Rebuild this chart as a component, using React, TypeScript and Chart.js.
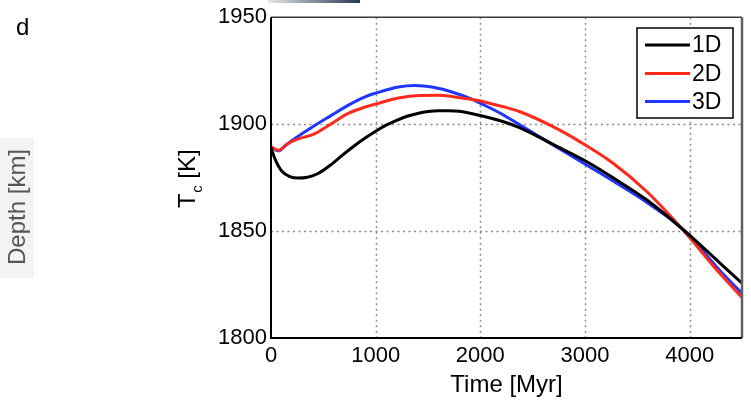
import { useEffect, useRef } from "react";
import { Chart, registerables } from "chart.js";

Chart.register(...registerables);

const seriesLabels = ["1D", "2D", "3D"];
const seriesColors = ["#000000", "#ff2a1c", "#1f35ff"];

const time1D = [0, 40, 100, 180, 260, 350, 450, 580, 680, 800, 900, 1000, 1100, 1200, 1300, 1400, 1500, 1600, 1700, 1800, 1966, 2221, 2380, 2699, 3018, 3272, 3592, 3942, 4292, 4500];
const tc1D = [1889.1, 1883.5, 1878.2, 1875.5, 1874.8, 1875.2, 1876.9, 1881.3, 1885.4, 1890.0, 1893.5, 1896.7, 1899.5, 1901.8, 1903.7, 1905.0, 1905.9, 1906.3, 1906.3, 1906.0, 1904.4, 1901.1, 1898.3, 1890.4, 1882.4, 1874.8, 1864.5, 1850.5, 1834.9, 1825.6];

const time2D = [0, 70, 150, 229, 421, 580, 739, 899, 994, 1217, 1424, 1600, 1743, 1966, 2221, 2380, 2699, 2954, 3272, 3592, 3910, 4292, 4500];
const tc2D = [1889.4, 1887.8, 1890.5, 1892.5, 1895.6, 1900.3, 1905.0, 1908.0, 1909.3, 1912.2, 1913.4, 1913.5, 1912.8, 1911.2, 1908.1, 1905.8, 1898.7, 1891.7, 1881.6, 1868.4, 1852.0, 1830.0, 1819.0];

const time3D = [0, 70, 150, 229, 421, 580, 739, 899, 994, 1217, 1377, 1550, 1743, 1900, 2050, 2221, 2380, 2550, 2699, 3018, 3272, 3592, 3942, 4292, 4500];
const tc3D = [1889.4, 1887.5, 1890.5, 1893.3, 1899.5, 1904.2, 1908.9, 1912.8, 1914.4, 1917.4, 1918.1, 1917.2, 1914.8, 1912.0, 1908.6, 1904.3, 1899.6, 1894.6, 1890.2, 1880.8, 1873.3, 1863.4, 1850.5, 1831.3, 1820.9];

const xTicks = [0, 1000, 2000, 3000, 4000];
const yTicks = [1800, 1850, 1900, 1950];
const xMin = 0, xMax = 4500, yMin = 1800, yMax = 1950;

const FONT = "'Liberation Sans', Arial, Helvetica, sans-serif";

const toPoints = (xs: number[], ys: number[]) => xs.map((x, i) => ({ x, y: ys[i] }));

const overlayPlugin = {
  id: "overlay",
  beforeDraw(chart: any) {
    const ctx = chart.ctx;
    ctx.save();
    const g = ctx.createLinearGradient(268, 0, 360, 0);
    g.addColorStop(0, "rgba(230,230,230,1)");
    g.addColorStop(1, "rgba(40,55,85,1)");
    ctx.fillStyle = g;
    ctx.fillRect(268, 0, 92, 3);
    ctx.fillStyle = "#000";
    ctx.font = `24px ${FONT}`;
    ctx.textBaseline = "alphabetic";
    ctx.textAlign = "left";
    ctx.fillText("d", 16, 35);
    ctx.fillStyle = "#f3f3f3";
    ctx.fillRect(0, 138, 34, 140);
    ctx.translate(25, 265);
    ctx.rotate(-Math.PI / 2);
    ctx.fillStyle = "#555";
    ctx.font = `24px ${FONT}`;
    ctx.fillText("Depth [km]", 0, 0);
    ctx.restore();

    ctx.save();
    ctx.translate(195, 208);
    ctx.rotate(-Math.PI / 2);
    ctx.fillStyle = "#000";
    ctx.textBaseline = "alphabetic";
    ctx.textAlign = "left";
    ctx.font = `24px ${FONT}`;
    ctx.fillText("T", 0, 0);
    let w = ctx.measureText("T").width;
    ctx.font = `15px ${FONT}`;
    ctx.fillText("c", w + 0.5, 7);
    w += ctx.measureText("c").width + 0.5;
    ctx.font = `24px ${FONT}`;
    ctx.fillText(" [K]", w, 0);
    ctx.restore();
  },
  beforeDatasetsDraw(chart: any) {
    const ctx = chart.ctx;
    const xs = chart.scales.x;
    const ys = chart.scales.y;
    const a = chart.chartArea;
    ctx.save();
    ctx.strokeStyle = "#8a8a8a";
    ctx.lineWidth = 1.5;
    ctx.setLineDash([2, 3.5]);
    xTicks.forEach((v) => {
      if (v === xMin || v === xMax) return;
      const p = Math.round(xs.getPixelForValue(v)) + 0.5;
      ctx.beginPath();
      ctx.moveTo(p, a.top);
      ctx.lineTo(p, a.bottom);
      ctx.stroke();
    });
    yTicks.forEach((v) => {
      if (v === yMin || v === yMax) return;
      const p = Math.round(ys.getPixelForValue(v)) + 0.5;
      ctx.beginPath();
      ctx.moveTo(a.left, p);
      ctx.lineTo(a.right, p);
      ctx.stroke();
    });
    ctx.restore();
  },
  afterDatasetsDraw(chart: any) {
    const ctx = chart.ctx;
    const a = chart.chartArea;
    ctx.save();
    ctx.strokeStyle = "#3a3a3a";
    ctx.lineWidth = 1.5;
    ctx.beginPath();
    ctx.moveTo(a.left, a.top);
    ctx.lineTo(a.right, a.top);
    ctx.stroke();
    ctx.strokeStyle = "#606060";
    ctx.lineWidth = 2.5;
    ctx.beginPath();
    ctx.moveTo(a.right, a.top);
    ctx.lineTo(a.right, a.bottom);
    ctx.stroke();
    ctx.strokeStyle = "#000";
    ctx.lineWidth = 2;
    ctx.beginPath();
    ctx.moveTo(a.left, a.top);
    ctx.lineTo(a.left, a.bottom);
    ctx.lineTo(a.right, a.bottom);
    ctx.stroke();

    const bx = 637, by = 28, bw = 96, bh = 90;
    ctx.fillStyle = "#fff";
    ctx.fillRect(bx, by, bw, bh);
    ctx.strokeStyle = "#000";
    ctx.lineWidth = 1.5;
    ctx.strokeRect(bx, by, bw, bh);
    const rows = [45, 73.5, 101.5];
    chart.data.datasets.forEach((ds: any, i: number) => {
      ctx.strokeStyle = ds.borderColor;
      ctx.lineWidth = 3;
      ctx.beginPath();
      ctx.moveTo(645, rows[i]);
      ctx.lineTo(690, rows[i]);
      ctx.stroke();
      ctx.fillStyle = "#000";
      ctx.font = `23px ${FONT}`;
      ctx.textBaseline = "middle";
      ctx.textAlign = "left";
      ctx.fillText(ds.label, 692, rows[i] + 1);
    });
    ctx.restore();
  },
};

export default function App() {
  const ref = useRef<HTMLCanvasElement | null>(null);
  useEffect(() => {
    if (!ref.current) return;
    const xsArr = [time1D, time2D, time3D];
    const ysArr = [tc1D, tc2D, tc3D];
    const chart = new Chart(ref.current, {
      type: "line",
      data: {
        datasets: seriesLabels.map((label, i) => ({
          label,
          data: toPoints(xsArr[i], ysArr[i]),
          borderColor: seriesColors[i],
          backgroundColor: seriesColors[i],
          borderWidth: 3,
          pointRadius: 0,
          cubicInterpolationMode: "monotone" as const,
          fill: false,
        })),
      },
      options: {
        animation: false,
        responsive: true,
        maintainAspectRatio: false,
        layout: { padding: { top: 17, right: 9, left: 0, bottom: 0 } },
        plugins: { legend: { display: false }, tooltip: { enabled: false } },
        scales: {
          x: {
            type: "linear",
            min: xMin,
            max: xMax,
            afterBuildTicks: (s: any) => {
              s.ticks = xTicks.map((v) => ({ value: v }));
            },
            afterFit: (s: any) => {
              s.height = 62;
            },
            grid: { display: false, drawTicks: false },
            border: { display: false },
            ticks: {
              color: "#000",
              padding: 5,
              maxRotation: 0,
              autoSkip: false,
              font: { family: FONT, size: 22 },
              callback: (v: any) => String(v),
            },
            title: {
              display: true,
              text: "Time [Myr]",
              color: "#000",
              font: { family: FONT, size: 24 },
              padding: { top: 4, bottom: 0 },
            },
          },
          y: {
            type: "linear",
            min: yMin,
            max: yMax,
            afterBuildTicks: (s: any) => {
              s.ticks = yTicks.map((v) => ({ value: v }));
            },
            afterFit: (s: any) => {
              s.width = 271;
            },
            grid: { display: false, drawTicks: false },
            border: { display: false },
            ticks: {
              color: "#000",
              padding: 4,
              autoSkip: false,
              font: { family: FONT, size: 22 },
              callback: (v: any) => String(v),
            },
          },
        },
      },
      plugins: [overlayPlugin],
    });
    return () => chart.destroy();
  }, []);

  return (
    <div style={{ position: "fixed", left: 0, top: 0, width: 751, height: 400, background: "#fff" }}>
      <canvas ref={ref} />
    </div>
  );
}
